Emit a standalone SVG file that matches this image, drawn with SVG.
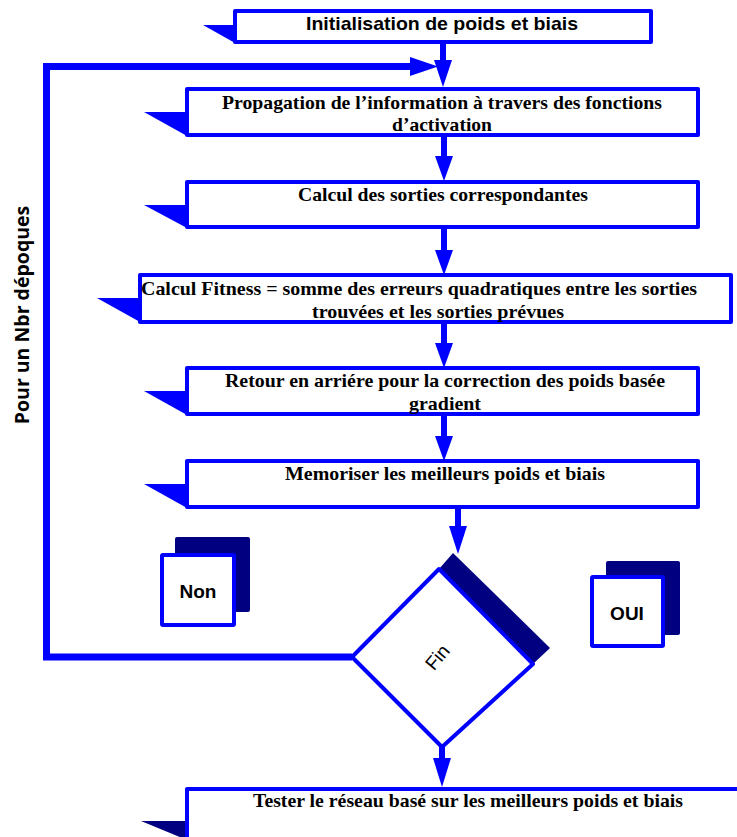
<svg xmlns="http://www.w3.org/2000/svg" width="737" height="837" viewBox="0 0 737 837">
<defs>
<style>
.box{fill:#fff;stroke:#0000ff;stroke-width:4;stroke-linejoin:round}
.tab{fill:#0000ff}
.tabd{fill:#000080}
.shadow{fill:#000080}
.ser{font-family:"Liberation Serif","Times New Roman",serif;font-weight:bold;font-size:19px;fill:#000;text-anchor:middle}
.sans{font-family:"Liberation Sans",Arial,sans-serif;fill:#000;text-anchor:middle}
.line{stroke:#0000ff;fill:none}
.head{fill:#0000ff}
</style>
</defs>
<rect width="737" height="837" fill="#fff"/>
<g id="connectors">
<line class="line" x1="443" y1="43" x2="443" y2="62" stroke-width="6"/>
<polygon class="head" points="434,60 452,60 443,87"/>
<polyline class="line" points="352,657 46.5,657 46.5,66.5 412,66.5" stroke-width="7"/>
<polygon class="head" points="410,57 410,76 438,66.5"/>
<line class="line" x1="444" y1="136" x2="444" y2="158" stroke-width="6"/>
<polygon class="head" points="435,156 453,156 444,181"/>
<line class="line" x1="444" y1="228" x2="444" y2="252" stroke-width="6"/>
<polygon class="head" points="435,250 453,250 444,275"/>
<line class="line" x1="444" y1="323" x2="444" y2="345" stroke-width="6"/>
<polygon class="head" points="435,343 453,343 444,368"/>
<line class="line" x1="444" y1="415" x2="444" y2="438" stroke-width="6"/>
<polygon class="head" points="435,436 453,436 444,461"/>
<line class="line" x1="458" y1="508" x2="458" y2="528" stroke-width="6"/>
<polygon class="head" points="449,526 467,526 458,554"/>
<line class="line" x1="442" y1="747" x2="442" y2="760" stroke-width="6"/>
<polygon class="head" points="433,758 451,758 442,787"/>
</g>
<g id="n1">
<polygon class="tab" points="203,25 235,25 235,43"/>
<rect class="box" x="235" y="11" width="416" height="31"/>
<text class="sans" x="442" y="30" font-size="19" font-weight="bold" textLength="272" lengthAdjust="spacingAndGlyphs">Initialisation de poids et biais</text>
</g>
<g id="n2">
<polygon class="tab" points="144,112 187,112 187,136"/>
<rect class="box" x="187" y="89" width="511" height="46"/>
<text class="ser" x="442" y="109" textLength="440" lengthAdjust="spacingAndGlyphs">Propagation de l’information à travers des fonctions</text>
<text class="ser" x="442" y="131" textLength="100" lengthAdjust="spacingAndGlyphs">d’activation</text>
</g>
<g id="n3">
<polygon class="tab" points="144,205 187,205 187,228"/>
<rect class="box" x="187" y="182" width="511" height="45"/>
<text class="ser" x="443" y="201" textLength="290" lengthAdjust="spacingAndGlyphs">Calcul des sorties correspondantes</text>
</g>
<g id="n4">
<polygon class="tab" points="97,298 140,298 140,322"/>
<rect class="box" x="140" y="275" width="591" height="47"/>
<text class="ser" x="419" y="295" textLength="556" lengthAdjust="spacingAndGlyphs">Calcul Fitness = somme des erreurs quadratiques entre les sorties</text>
<text class="ser" x="438" y="318" textLength="252" lengthAdjust="spacingAndGlyphs">trouvées et les sorties prévues</text>
</g>
<g id="n5">
<polygon class="tab" points="144,391 187,391 187,415"/>
<rect class="box" x="187" y="368" width="511" height="46"/>
<text class="ser" x="445" y="387" textLength="440" lengthAdjust="spacingAndGlyphs">Retour en arriére pour la correction des poids basée</text>
<text class="ser" x="445" y="410" textLength="72" lengthAdjust="spacingAndGlyphs">gradient</text>
</g>
<g id="n6">
<polygon class="tab" points="144,484 187,484 187,508"/>
<rect class="box" x="187" y="461" width="511" height="46"/>
<text class="ser" x="445" y="480" textLength="320" lengthAdjust="spacingAndGlyphs">Memoriser les meilleurs poids et biais</text>
</g>
<g id="non">
<rect class="shadow" x="175" y="537" width="75" height="75" rx="2"/>
<rect class="box" x="162" y="555" width="72" height="70" rx="1"/>
<text class="sans" x="198" y="598" font-size="19" font-weight="bold">Non</text>
</g>
<g id="oui">
<rect class="shadow" x="606" y="561" width="74" height="74" rx="2"/>
<rect class="box" x="592" y="577" width="71" height="69" rx="1"/>
<text class="sans" x="627" y="620" font-size="19" font-weight="bold">OUI</text>
</g>
<g id="fin">
<polygon class="shadow" points="439,569 453,553 550,648 533,664"/>
<polygon class="box" points="352,657 439,569 533,664 442,747"/>
<text class="sans" x="437" y="664" font-size="19" transform="rotate(-50 437 657)">Fin</text>
</g>
<g id="n7">
<polygon class="tabd" points="141,821 187,821 187,840"/>
<rect class="box" x="187" y="789" width="560" height="60"/>
<text class="ser" x="468" y="807" textLength="430" lengthAdjust="spacingAndGlyphs">Tester le réseau basé sur les meilleurs poids et biais</text>
</g>
<g id="label">
<text font-family="'Open Sans','Liberation Sans',sans-serif" font-weight="bold" font-size="19.5" fill="#000" text-anchor="middle" transform="translate(29 315) rotate(-90)">Pour un Nbr dépoques</text>
</g>
</svg>
